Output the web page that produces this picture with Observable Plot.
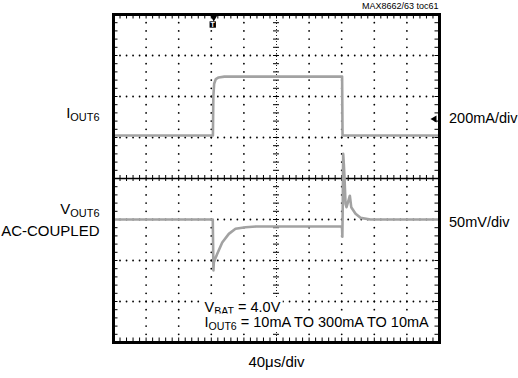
<!DOCTYPE html>
<html><head><meta charset="utf-8">
<script src="https://cdn.jsdelivr.net/npm/d3@7"></script>
<script src="https://cdn.jsdelivr.net/npm/@observablehq/plot@0.6"></script>
<style>
html,body{margin:0;padding:0;background:#fff;}
#chart{width:518px;height:378px;overflow:hidden;}
</style></head><body><div id="chart"></div>
<script>
// ---- data read from the scope shot ----
// Channel 1: I_OUT6 load current (mA) vs time (µs)
const ioutTime     = [0, 122, 122.5, 123.5, 125.5, 129, 136, 280.5, 281, 400];
const ioutMilliamp = [10, 10, 200, 262, 285, 293, 297, 297, 10, 10];
// Channel 2: V_OUT6 AC-coupled deviation (mV) vs time (µs)
const voutTime = [0, 121.8, 122.2, 122.6, 123.1, 127.2, 133.4, 141.5, 149.7, 162, 175, 280.4, 280.8, 281.3, 281.8, 282.6, 283.4, 284.7, 285.9, 288, 290, 291.7, 297, 303.1, 315.3, 400];
const voutMillivolt = [0, 0, -30, -62, -52, -42, -28, -17.5, -11.3, -9.4, -8.5, -8.5, -21, 20, 80, 68, 52, 19, 15, 22, 29, 15, 7, 2, 0, 0];

// scope settings
const timePerDiv = 40;     // µs/div
const ioutPerDiv = 200;    // mA/div
const voutPerDiv = 50;     // mV/div
const ioutZeroDiv = 1;     // channel 1 position (div)
const voutZeroDiv = -1;    // channel 2 position (div)
const triggerTime = 123;   // µs
const ch1MarkerDiv = 1.45; // marker on right edge

// texts
const figureId = "MAX8662/63 toc61";
const channelLabels = ["I_{OUT6}", "V_{OUT6}", "AC-COUPLED"];
const scaleLabels = ["200mA/div", "50mV/div"];
const timeLabel = "40μs/div";
const conditionLabels = ["V_{BAT} = 4.0V", "I_{OUT6} = 10mA TO 300mA TO 10mA"];

// ---- build ----
const W = 518, H = 378, mL = 113, mR = 79, mT = 14, mB = 36;
const nX = 10, nY = 8;
const pxPerDivX = (W - mL - mR) / nX, pxPerDivY = (H - mT - mB) / nY;
const pxToT = px => px / pxPerDivX * timePerDiv;
const pxToDiv = px => px / pxPerDivY;

const iout = ioutTime.map((t, i) => ({t, v: ioutZeroDiv + ioutMilliamp[i] / ioutPerDiv}));
const vout = voutTime.map((t, i) => ({t, v: voutZeroDiv + voutMillivolt[i] / voutPerDiv}));

const tMax = timePerDiv * nX;
const minorX = d3.range(0, nX * 5 + 1).map(i => i * timePerDiv / 5);
const minorY = d3.range(0, nY * 5 + 1).map(i => -nY / 2 + i / 5);
const majorX = d3.range(1, nX).filter(i => i !== nX / 2).map(i => i * timePerDiv);
const majorY = d3.range(1, nY).map(i => -nY / 2 + i).filter(v => v !== 0);
const gridDots = [
  ...majorY.flatMap(y => minorX.map(x => ({x, y}))),
  ...majorX.flatMap(x => minorY.map(y => ({x, y})))
];
const cT = tMax / 2;
const tickHalfY = pxToDiv(3), tickHalfX = pxToT(3);
const bTickY = pxToDiv(4.5), bTickX = pxToT(4.5);

const FONT = "'Liberation Sans', Arial, Helvetica, sans-serif";
const lbl = (arr, o) => Plot.text(arr, {text: d => d, lineAnchor: "bottom", fill: "black", fontSize: 15, ...o});

const plot = Plot.plot({
  width: W, height: H,
  marginLeft: mL, marginRight: mR, marginTop: mT, marginBottom: mB,
  x: {domain: [0, tMax], axis: null},
  y: {domain: [-nY / 2, nY / 2], axis: null},
  style: {fontFamily: FONT, background: "white", overflow: "visible"},
  marks: [
    // graticule dots
    Plot.dot(gridDots, {x: "x", y: "y", r: 0.9, fill: "#000", stroke: null}),
    // center vertical
    Plot.ruleX([cT], {stroke: "#222", strokeWidth: 1, strokeDasharray: "1,2"}),
    Plot.ruleY(minorY, {y: d => d, x1: cT - tickHalfX, x2: cT + tickHalfX, stroke: "black", strokeWidth: 1}),
    // center horizontal
    Plot.ruleY([0], {stroke: "black", strokeWidth: 1.6}),
    Plot.ruleX(minorX, {x: d => d, y1: -tickHalfY, y2: tickHalfY, stroke: "black", strokeWidth: 1}),
    // border ticks
    Plot.ruleY(minorY, {y: d => d, x1: 0, x2: bTickX, stroke: "black", strokeWidth: 1}),
    Plot.ruleY(minorY, {y: d => d, x1: tMax - bTickX, x2: tMax, stroke: "black", strokeWidth: 1}),
    Plot.ruleX(minorX, {x: d => d, y1: nY / 2 - bTickY, y2: nY / 2, stroke: "black", strokeWidth: 1}),
    Plot.ruleX(minorX, {x: d => d, y1: -nY / 2, y2: -nY / 2 + bTickY, stroke: "black", strokeWidth: 1}),
    // traces
    Plot.line(iout, {x: "t", y: "v", stroke: "#a2a2a2", strokeWidth: 2.6}),
    Plot.line(vout, {x: "t", y: "v", stroke: "#a2a2a2", strokeWidth: 2.6}),
    // frame
    Plot.frame({stroke: "black", strokeWidth: 3}),
    // trigger marker
    Plot.dot([triggerTime], {x: d => d, y: nY / 2, symbol: "triangle", rotate: 180, r: 2.6, fill: "black", stroke: null, dy: 3}),
    Plot.dot([triggerTime], {x: d => d, y: nY / 2, symbol: "square", r: 3.6, fill: "black", stroke: null, dy: 10, dx: -1}),
    Plot.text(["T"], {x: triggerTime, y: nY / 2, text: d => d, fill: "white", fontSize: 7, fontWeight: "bold", dy: 10, dx: -1}),
    // ch1 marker
    Plot.dot([ch1MarkerDiv], {x: tMax, y: d => d, symbol: "triangle", rotate: -90, r: 2.6, fill: "black", stroke: null, dx: -5}),
    // labels
    lbl([figureId], {frameAnchor: "top-right", dx: -1, dy: -5.5, textAnchor: "end", fontSize: 9}),
    lbl([channelLabels[0]], {frameAnchor: "top-left", dx: -14, dy: 103, textAnchor: "end"}),
    lbl([channelLabels[1]], {frameAnchor: "top-left", dx: -14, dy: 199, textAnchor: "end"}),
    lbl([channelLabels[2]], {frameAnchor: "top-left", dx: -14, dy: 221, textAnchor: "end"}),
    lbl([scaleLabels[0]], {frameAnchor: "top-right", dx: 9.5, dy: 108, textAnchor: "start", fontSize: 14.5}),
    lbl([scaleLabels[1]], {frameAnchor: "top-right", dx: 9.5, dy: 212.5, textAnchor: "start", fontSize: 14.5}),
    lbl([timeLabel], {frameAnchor: "bottom", dy: 24, textAnchor: "middle"}),
    lbl([conditionLabels[0]], {frameAnchor: "top-left", dx: 91, dy: 297, textAnchor: "start", fontSize: 14.5}),
    lbl([conditionLabels[1]], {frameAnchor: "top-left", dx: 91, dy: 312, textAnchor: "start", fontSize: 14.5})
  ]
});
document.getElementById("chart").append(plot);

// rich text: subscripts + white boxes behind condition labels
const NS = "http://www.w3.org/2000/svg";
for (const t of plot.querySelectorAll("text")) {
  const raw = t.textContent;
  const needsBg = conditionLabels.includes(raw);
  if (raw.includes("_{")) {
    t.textContent = "";
    let shift = 0;
    for (const p of raw.split(/(_\{[^}]*\})/)) {
      if (!p) continue;
      const ts = document.createElementNS(NS, "tspan");
      if (p.startsWith("_{")) {
        ts.textContent = p.slice(2, -1);
        ts.setAttribute("font-size", "0.73em");
        ts.setAttribute("dy", 3 - shift); shift = 3;
      } else {
        ts.textContent = p;
        if (shift) { ts.setAttribute("dy", -shift); shift = 0; }
      }
      t.append(ts);
    }
  }
  if (needsBg) {
    const b = t.getBBox();
    const r = document.createElementNS(NS, "rect");
    r.setAttribute("x", b.x - 2); r.setAttribute("y", b.y);
    r.setAttribute("width", b.width + 4); r.setAttribute("height", b.height);
    r.setAttribute("fill", "white");
    const tr = t.getAttribute("transform"); if (tr) r.setAttribute("transform", tr);
    t.parentNode.insertBefore(r, t);
  }
}
</script></body></html>
